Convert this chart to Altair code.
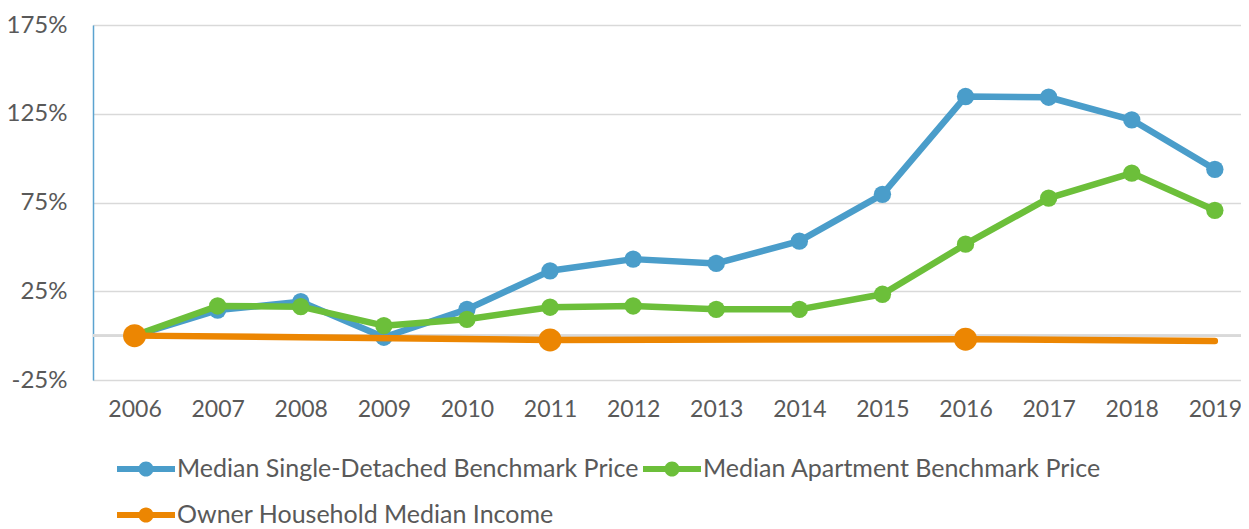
import altair as alt
import pandas as pd

# ---- data ----
years = [2006, 2007, 2008, 2009, 2010, 2011, 2012, 2013, 2014, 2015, 2016, 2017, 2018, 2019]
single_detached = [0.0, 14.4, 19.1, -0.9, 14.8, 36.5, 43.1, 40.7, 53.2, 79.6, 134.7, 134.3, 121.6, 93.7]
apartment = [0.0, 16.7, 16.3, 5.6, 9.2, 16.0, 16.7, 14.8, 14.8, 23.3, 51.5, 77.5, 91.6, 70.6]
income_years = [2006, 2011, 2016, 2019]
income = [0.0, -2.4, -2.0, -3.0]
income_marker_years = [2006, 2011, 2016]
y_ticks = [-25, 25, 75, 125, 175]

names = [
    "Median Single-Detached Benchmark Price",
    "Median Apartment Benchmark Price",
    "Owner Household Median Income",
]
colors = ["#4a9dca", "#6cbf3a", "#ec8602"]

rows = []
for yr, v in zip(years, single_detached):
    rows.append({"year": yr, "pct": v, "series": names[0], "marker": True})
for yr, v in zip(years, apartment):
    rows.append({"year": yr, "pct": v, "series": names[1], "marker": True})
for yr, v in zip(income_years, income):
    rows.append({"year": yr, "pct": v, "series": names[2], "marker": yr in income_marker_years})
df = pd.DataFrame(rows)

# ---- layout / style ----
W, H = 1148, 355
STEP = 83.1
FONT = "Lato"
TEXT = "#595959"
GRID = "#d9d9d9"

LEGEND_PATH = (
    "M-1,-0.1 L1,-0.1 L1,0.1 L-1,0.1 Z "
    "M-0.26,0 A0.26,0.26 0 1,1 0.26,0 A0.26,0.26 0 1,1 -0.26,0 Z"
)

x_enc = alt.X(
    "year:Q",
    title=None,
    scale=alt.Scale(domain=[2005.5, 2005.5 + W / STEP], nice=False, zero=False),
    axis=alt.Axis(
        values=years, format="d", grid=False, domain=False, ticks=False,
        labelFont=FONT, labelFontSize=23, labelColor=TEXT, labelPadding=18,
        labelFlush=False, labelOverlap=False,
    ),
)
y_enc = alt.Y(
    "pct:Q",
    title=None,
    scale=alt.Scale(domain=[-25, 175], nice=False, zero=False),
    axis=alt.Axis(
        values=y_ticks, labelExpr="datum.value + '%'", grid=True, gridColor=GRID,
        gridWidth=1.5, domain=True, domainColor="#5ba3d0", domainWidth=1.5,
        ticks=False, labelFont=FONT, labelFontSize=24, labelColor=TEXT,
        labelPadding=26,
    ),
)
legend = alt.Legend(
    title=None, orient="none", legendX=24, legendY=432, direction="horizontal",
    columns=2, symbolType=LEGEND_PATH, symbolSize=3364, symbolStrokeWidth=0,
    symbolOpacity=1, labelFont=FONT, labelFontSize=25, labelColor=TEXT,
    labelLimit=2000, labelOffset=2, columnPadding=4, rowPadding=21,
    clipHeight=24, padding=0, symbolOffset=0,
)
color_enc = alt.Color(
    "series:N", scale=alt.Scale(domain=names, range=colors), legend=legend
)

base = alt.Chart(df)
layers = [
    base.mark_rule(color=GRID, strokeWidth=2).encode(y=alt.datum(0))
]
for name, col in zip(names, colors):
    s = base.transform_filter(alt.datum.series == name)
    layers.append(
        s.mark_line(strokeWidth=6.5, strokeCap="round", strokeJoin="round", color=col)
        .encode(x=x_enc, y=y_enc)
    )
    msize = 529 if name == names[2] else 300
    layers.append(
        s.transform_filter(alt.datum.marker)
        .mark_circle(size=msize, opacity=1)
        .encode(x=x_enc, y=y_enc, color=color_enc)
    )

chart = (
    alt.layer(*layers)
    .properties(
        width=W, height=H,
        autosize=alt.AutoSizeParams(type="none"),
        padding={"left": 85, "top": 17, "right": 0, "bottom": 149},
    )
    .configure_view(stroke=None)
    .configure(background="white")
)

chart.save("out.html", embed_options={"renderer": "svg", "actions": False})
